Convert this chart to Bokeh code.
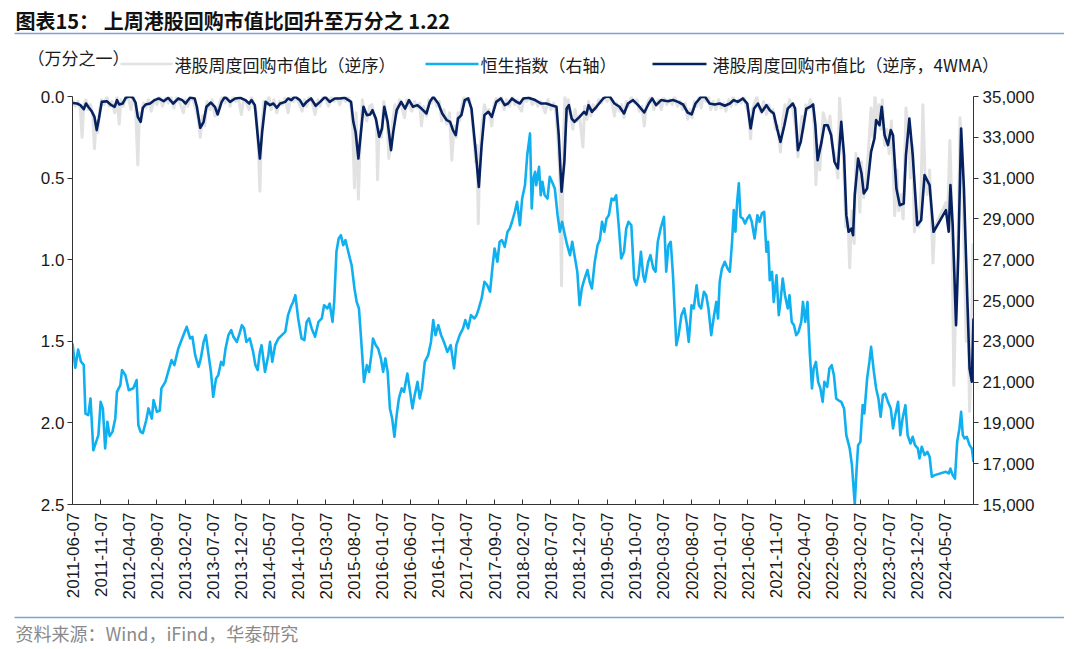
import math
from bokeh.plotting import figure
from bokeh.layouts import column
from bokeh.models import (Range1d, LinearAxis, FixedTicker, NumeralTickFormatter)
from bokeh.core.properties import value
from bokeh.embed import file_html
from bokeh.resources import INLINE

# ---------------- data (x = months since 2011-06-07) ----------------
tick_month = list(range(0, 160, 5))
tick_labels = ["2011-06-07", "2011-11-07", "2012-04-07", "2012-09-07", "2013-02-07",
               "2013-07-07", "2013-12-07", "2014-05-07", "2014-10-07", "2015-03-07",
               "2015-08-07", "2016-01-07", "2016-06-07", "2016-11-07", "2017-04-07",
               "2017-09-07", "2018-02-07", "2018-07-07", "2018-12-07", "2019-05-07",
               "2019-10-07", "2020-03-07", "2020-08-07", "2021-01-07", "2021-06-07",
               "2021-11-07", "2022-04-07", "2022-09-07", "2023-02-07", "2023-07-07",
               "2023-12-07", "2024-05-07"]

left_ticks = [0.0, 0.5, 1.0, 1.5, 2.0, 2.5]
right_ticks = [15000, 17000, 19000, 21000, 23000, 25000, 27000, 29000, 31000, 33000, 35000]

# Hang Seng Index (right axis)
hsi_month = [
    0.0, 0.5, 1.0, 1.5, 2.0, 2.3, 2.8, 3.2, 3.7, 4.2,
    4.6, 5.0, 5.4, 5.8, 6.2, 6.6, 7.1, 7.6, 7.9, 8.5,
    8.8, 9.4, 10.0, 10.8, 11.4, 11.7, 12.1, 12.5, 13.1, 13.5,
    14.1, 14.4, 15.0, 15.5, 15.8, 16.5, 17.0, 17.6, 18.1, 18.8,
    19.7, 20.3, 20.9, 21.3, 21.8, 22.4, 22.8, 23.3, 23.7, 24.1,
    24.6, 25.0, 25.5, 25.9, 26.4, 26.8, 27.2, 27.7, 28.2, 28.6,
    29.2, 29.6, 30.1, 30.5, 30.9, 31.5, 32.1, 32.5, 32.9, 33.3,
    33.6, 34.2, 34.8, 35.1, 35.5, 36.0, 36.6, 37.2, 37.8, 38.3,
    38.8, 39.2, 39.6, 40.1, 40.7, 41.2, 41.6, 42.0, 42.5, 43.1,
    43.7, 44.3, 44.7, 45.3, 45.7, 46.2, 46.5, 46.9, 47.3, 47.7,
    48.1, 48.5, 49.0, 49.6, 50.1, 50.5, 50.9, 51.4, 51.8, 52.3,
    52.7, 53.1, 53.4, 53.9, 54.3, 54.8, 55.2, 55.6, 56.0, 56.4,
    56.8, 57.2, 57.6, 58.0, 58.5, 58.9, 59.5, 59.9, 60.4, 60.8,
    61.3, 61.7, 62.1, 62.6, 63.2, 63.7, 64.1, 64.5, 65.0, 65.5,
    66.0, 66.6, 67.2, 67.8, 68.2, 68.8, 69.4, 69.8, 70.3, 70.8,
    71.4, 71.8, 72.2, 72.7, 73.2, 73.7, 74.2, 74.6, 75.0, 75.5,
    75.9, 76.3, 76.8, 77.3, 77.7, 78.1, 78.6, 79.0, 79.5, 79.9,
    80.4, 80.8, 81.3, 81.6, 81.9, 82.2, 82.4, 82.9, 83.2, 83.5,
    83.9, 84.4, 84.8, 85.2, 85.7, 86.2, 86.6, 87.0, 87.5, 87.9,
    88.4, 88.8, 89.2, 89.7, 90.1, 90.5, 91.0, 91.5, 91.9, 92.3,
    92.8, 93.3, 93.7, 94.1, 94.5, 94.9, 95.3, 95.8, 96.2, 96.6,
    97.1, 97.5, 98.0, 98.4, 98.8, 99.3, 99.8, 100.2, 100.6, 101.0,
    101.4, 101.7, 102.3, 102.7, 103.2, 103.6, 104.0, 104.5, 105.1, 105.5,
    105.9, 106.3, 106.7, 107.1, 107.3, 107.7, 108.2, 108.7, 109.1, 109.5,
    110.0, 110.4, 110.9, 111.3, 111.7, 112.2, 112.6, 113.0, 113.5, 114.0,
    114.4, 114.7, 115.0, 115.4, 115.9, 116.4, 116.8, 117.2, 117.5, 117.8,
    118.1, 118.4, 118.7, 119.1, 119.5, 119.9, 120.3, 120.7, 121.2, 121.7,
    122.1, 122.5, 122.9, 123.3, 123.6, 123.9, 124.3, 124.6, 125.1, 125.5,
    125.8, 126.2, 126.6, 127.1, 127.4, 127.8, 128.2, 128.6, 129.0, 129.5,
    129.8, 130.2, 130.6, 131.0, 131.4, 131.7, 132.1, 132.5, 132.9, 133.3,
    133.6, 134.1, 134.5, 134.9, 135.3, 135.7, 136.1, 136.6, 137.1, 137.5,
    138.1, 138.5, 139.0, 139.3, 139.6, 140.0, 140.4, 140.7, 141.2, 141.6,
    141.9, 142.4, 142.8, 143.2, 143.6, 144.0, 144.4, 144.9, 145.4, 145.8,
    146.2, 146.7, 147.1, 147.5, 148.0, 148.4, 148.9, 149.3, 149.7, 150.2,
    150.5, 150.9, 151.4, 151.9, 152.3, 152.7, 153.2, 155.2, 155.7, 156.0,
    156.4, 156.8, 157.2, 157.6, 157.9, 158.2, 158.5, 158.9, 159.4, 159.8,
    160.1]
hsi_value = [
    22900, 21700, 22600, 22000, 21850, 19460, 19380, 20200, 17660, 18070,
    18400, 20030, 19700, 17750, 19050, 18350, 18560, 19220, 20520, 20850,
    21590, 21340, 20600, 20700, 21100, 18890, 18560, 18500, 19130, 19710,
    19210, 20120, 19540, 19600, 20690, 21010, 21500, 22080, 21830, 22650,
    23300, 23710, 23140, 23220, 22320, 21750, 22160, 22970, 23300, 22480,
    21500, 20280, 21170, 21340, 21990, 21830, 22650, 23300, 23550, 23220,
    22970, 23300, 23790, 23630, 22970, 23140, 22480, 21830, 21590, 22480,
    22810, 21500, 22320, 22970, 21990, 22810, 23140, 23300, 23460, 24280,
    24690, 24930, 25260, 24120, 23140, 23060, 23950, 24120, 23630, 23220,
    23950, 24120, 24770, 24610, 24850, 23950, 24930, 27390, 28040, 28200,
    27710, 27960, 27390, 26730, 25590, 24930, 24610, 22650, 21010, 21830,
    21500, 22320, 23140, 22810, 22650, 22160, 21500, 22160, 21500, 19710,
    19220, 18320, 19380, 20200, 20690, 20520, 21420, 20690, 19710, 20360,
    21010, 20200, 20690, 21990, 22320, 22970, 24040, 23300, 23790, 23300,
    22970, 22480, 22810, 21670, 22810, 23300, 23630, 24040, 23630, 24280,
    24120, 24280, 24610, 25100, 25920, 25750, 25430, 26570, 27550, 26900,
    27880, 27960, 27630, 28370, 28530, 28860, 29350, 29840, 28690, 30000,
    30650, 32120, 33190, 29510, 30980, 31310, 30650, 31550, 30160, 30820,
    30160, 30000, 31060, 30820, 30490, 29180, 28370, 28860, 28200, 27710,
    27220, 27880, 27220, 26410, 24770, 25590, 26080, 26490, 25920, 25590,
    26900, 27710, 27960, 28860, 28370, 29020, 29180, 30000, 29920, 30160,
    28530, 27060, 27390, 28530, 28860, 28690, 26080, 25750, 26240, 27390,
    26240, 25920, 26900, 27220, 26570, 26410, 27880, 28530, 29100, 26410,
    27710, 27880, 26240, 23950, 22810, 23300, 24280, 24610, 23950, 22970,
    24770, 24610, 25750, 24770, 24610, 25430, 25260, 24610, 23300, 24280,
    24930, 24120, 25920, 26570, 26900, 26570, 26410, 27880, 29430, 28370,
    29840, 30740, 29100, 29020, 28770, 29020, 29180, 28860, 28040, 29180,
    28860, 29270, 29350, 27390, 27880, 26000, 26410, 24930, 26240, 24280,
    24930, 26080, 25260, 24610, 25260, 23950, 23790, 23300, 23460, 23950,
    24930, 23950, 24930, 22480, 20690, 21670, 21990, 21000, 20690, 20030,
    21010, 20770, 21670, 21830, 21340, 20200, 20110, 20030, 19710, 18400,
    17750, 16930, 15000, 16600, 17910, 18070, 19870, 19460, 21180, 21990,
    22730, 21500, 20690, 20200, 19300, 20360, 20440, 20030, 19710, 18730,
    19380, 20030, 18400, 19220, 19870, 18400, 17990, 18320, 17910, 17750,
    17260, 17830, 17420, 17580, 17340, 16360, 16440, 16600, 16520, 16760,
    16440, 16270, 18070, 18730, 19540, 18400, 18240, 18320, 17910, 17750,
    17090]

# weekly buyback / market value ratio (left axis, reversed)
weekly_month = [
    0.0, 0.5, 1.0, 1.4, 1.7, 2.0, 2.4, 2.8, 3.2, 3.6,
    3.9, 4.2, 4.5, 4.8, 5.2, 5.6, 6.1, 6.5, 7.0, 7.5,
    7.9, 8.3, 8.6, 9.0, 9.5, 10.0, 10.4, 10.8, 11.2, 11.6,
    11.9, 12.2, 12.6, 13.0, 13.5, 14.0, 14.5, 15.0, 15.5, 16.0,
    16.5, 17.0, 17.5, 18.0, 18.5, 19.0, 19.7, 20.1, 20.5, 21.0,
    21.5, 22.0, 22.4, 22.7, 23.1, 23.5, 23.9, 24.4, 24.8, 25.3,
    25.8, 26.2, 26.6, 27.1, 27.6, 28.0, 28.5, 29.0, 29.5, 30.0,
    30.4, 30.9, 31.4, 31.8, 32.3, 32.7, 33.0, 33.3, 33.6, 34.0,
    34.4, 34.9, 35.3, 35.8, 36.3, 36.8, 37.3, 37.8, 38.3, 38.8,
    39.3, 39.8, 40.3, 40.8, 41.2, 41.6, 42.1, 42.6, 43.1, 43.6,
    44.0, 44.5, 45.0, 45.5, 46.0, 46.5, 47.0, 47.5, 48.0, 48.5,
    49.0, 49.5, 49.8, 50.1, 50.4, 50.8, 51.1, 51.5, 51.9, 52.3,
    52.8, 53.2, 53.6, 54.0, 54.2, 54.5, 54.9, 55.3, 55.7, 56.0,
    56.2, 56.6, 56.9, 57.3, 57.7, 58.1, 58.5, 59.0, 59.4, 59.9,
    60.3, 60.8, 61.3, 61.7, 62.0, 62.4, 62.9, 63.3, 63.8, 64.2,
    64.7, 65.2, 65.6, 66.0, 66.5, 67.0, 67.4, 67.8, 68.2, 68.5,
    68.8, 69.2, 69.6, 70.1, 70.5, 70.9, 71.3, 71.6, 71.9, 72.1,
    72.4, 72.8, 73.2, 73.6, 74.0, 74.5, 74.9, 75.3, 75.8, 76.2,
    76.7, 77.1, 77.6, 78.1, 78.6, 79.0, 79.4, 79.8, 80.2, 80.7,
    81.2, 81.7, 82.2, 82.7, 83.2, 83.7, 84.0, 84.5, 85.0, 85.5,
    85.9, 86.3, 86.6, 86.9, 87.2, 87.5, 87.8, 88.1, 88.5, 88.9,
    89.3, 89.7, 90.1, 90.7, 91.0, 91.4, 91.7, 92.1, 92.5, 93.0,
    93.5, 94.0, 94.5, 95.0, 95.5, 96.0, 96.3, 96.7, 97.2, 97.6,
    98.0, 98.4, 98.8, 99.3, 99.8, 100.3, 100.7, 101.2, 101.6, 102.0,
    102.4, 102.9, 103.3, 103.7, 104.2, 104.6, 105.1, 105.6, 106.1, 106.6,
    107.0, 107.5, 108.0, 108.4, 108.9, 109.3, 109.7, 110.1, 110.5, 110.9,
    111.3, 111.7, 112.1, 112.6, 113.0, 113.4, 113.9, 114.3, 114.8, 115.2,
    115.7, 116.1, 116.6, 117.0, 117.4, 117.9, 118.3, 118.8, 119.3, 119.7,
    120.1, 120.5, 120.8, 121.2, 121.6, 122.0, 122.4, 122.8, 123.3, 123.7,
    124.1, 124.5, 124.9, 125.3, 125.8, 126.2, 126.6, 127.0, 127.4, 127.8,
    128.1, 128.5, 128.9, 129.2, 129.6, 129.9, 130.3, 130.7, 131.1, 131.5,
    131.8, 132.1, 132.4, 132.8, 133.1, 133.4, 133.8, 134.2, 134.6, 135.0,
    135.4, 135.7, 136.0, 136.3, 136.7, 137.0, 137.4, 137.8, 138.1, 138.5,
    138.9, 139.2, 139.5, 139.9, 140.2, 140.6, 141.0, 141.4, 141.9, 142.2,
    142.6, 143.0, 143.3, 143.6, 143.9, 144.3, 144.7, 145.1, 145.5, 145.8,
    146.1, 146.5, 146.8, 147.2, 147.6, 148.1, 148.5, 148.9, 149.3, 149.6,
    150.0, 150.4, 150.8, 151.1, 151.5, 151.9, 152.3, 152.9, 153.2, 155.2,
    155.5, 155.9, 156.2, 156.6, 157.0, 157.4, 157.7, 158.0, 158.4, 158.8,
    159.1, 159.4, 159.7, 160.0]
weekly_ratio = [
    .02, .06, .03, .08, .25, .05, .02, .08, .05, .12,
    .32, .15, .22, .08, .02, .05, .00, .06, .03, .10,
    .00, .17, .02, .06, .00, .02, .08, .00, .05, .42,
    .10, .15, .04, .07, .02, .09, .02, .05, .00, .06,
    .01, .04, .00, .07, .00, .03, .10, .02, .06, .00,
    .03, .09, .15, .25, .12, .18, .03, .08, .02, .12,
    .08, .03, .00, .04, .01, .06, .00, .03, .01, .11,
    .02, .04, .08, .00, .06, .10, .30, .58, .20, .03,
    .06, .00, .08, .02, .10, .03, .05, .01, .10, .00,
    .03, .00, .05, .09, .02, .06, .00, .04, .11, .02,
    .06, .00, .02, .06, .00, .03, .01, .05, .00, .03,
    .00, .06, .20, .56, .10, .63, .30, .02, .10, .15,
    .06, .05, .12, .15, .51, .20, .25, .03, .10, .20,
    .38, .30, .15, .05, .10, .02, .06, .13, .02, .05,
    .09, .03, .07, .04, .18, .06, .12, .02, .04, .00,
    .06, .03, .15, .08, .17, .10, .39, .18, .25, .10,
    .15, .05, .00, .03, .01, .10, .25, .40, .30, .78,
    .35, .15, .05, .10, .08, .18, .05, .01, .04, .00,
    .08, .02, .06, .00, .05, .02, .07, .09, .01, .03,
    .00, .05, .02, .06, .03, .07, .10, .02, .08, .04,
    .10, .30, .50, 1.16, .30, .00, .15, .02, .10, .20,
    .08, .15, .12, .31, .06, .14, .03, .12, .05, .08,
    .02, .04, .00, .03, .00, .06, .12, .04, .09, .05,
    .13, .03, .06, .00, .04, .02, .09, .06, .18, .05,
    .02, .00, .08, .04, .02, .08, .01, .05, .02, .05,
    .00, .06, .03, .08, .04, .14, .08, .13, .03, .06,
    .00, .07, .00, .03, .00, .08, .03, .08, .02, .07,
    .04, .09, .02, .06, .00, .05, .02, .04, .00, .06,
    .10, .26, .08, .04, .00, .07, .10, .03, .11, .05,
    .10, .08, .20, .18, .34, .15, .05, .10, .02, .05,
    .10, .20, .37, .25, .12, .20, .05, .08, .02, .06,
    .20, .54, .30, .45, .25, .10, .15, .20, .12, .30,
    .35, .42, .50, .01, .20, .40, .80, .75, 1.05, .70,
    .90, .35, .45, .71, .40, .62, .50, .35, .07, .25,
    .00, .15, .05, .20, .02, .30, .20, .35, .15, .40,
    .73, .45, .70, .60, .75, .07, .20, .50, .30, .83,
    .70, .80, .55, .05, .50, .60, .45, 1.02, .80, .65,
    .75, .27, .60, 1.77, 1.20, .80, .13, .30, .90, 1.50,
    1.30, 1.93, 1.60, .90]

# 4-week moving average of the ratio (left axis, reversed)
wma_month = [
    0.0, 0.8, 1.4, 2.0, 2.4, 2.8, 3.4, 3.9, 4.3, 4.7,
    5.2, 6.1, 6.9, 7.5, 7.9, 8.3, 8.9, 9.5, 10.1, 10.7,
    11.2, 11.6, 12.1, 12.5, 13.0, 13.8, 14.6, 15.3, 16.2, 17.0,
    17.9, 18.8, 19.5, 20.1, 20.9, 21.7, 22.1, 22.7, 23.3, 23.8,
    24.6, 25.3, 25.8, 26.5, 27.1, 28.0, 28.9, 29.8, 30.7, 31.4,
    31.8, 32.4, 32.9, 33.3, 33.7, 34.3, 35.1, 35.7, 36.3, 36.9,
    37.8, 38.3, 38.9, 39.5, 40.4, 41.0, 41.6, 42.4, 43.2, 44.0,
    44.9, 45.7, 46.6, 47.5, 48.4, 49.5, 49.9, 50.3, 50.8, 51.2,
    51.7, 52.3, 52.9, 53.3, 53.9, 54.5, 55.0, 55.4, 56.0, 56.6,
    57.0, 57.6, 58.4, 59.1, 59.8, 60.5, 61.3, 62.0, 62.9, 63.5,
    64.1, 65.0, 65.7, 66.5, 67.1, 67.6, 68.1, 68.5, 69.1, 69.7,
    70.3, 70.9, 71.6, 72.2, 72.7, 73.2, 73.9, 74.5, 75.3, 76.1,
    76.8, 77.4, 78.1, 78.9, 79.5, 80.1, 81.0, 82.2, 83.3, 84.2,
    85.1, 86.0, 86.4, 86.9, 87.4, 87.8, 88.2, 88.7, 89.2, 90.1,
    90.9, 91.3, 91.7, 92.3, 93.1, 94.3, 94.9, 95.5, 96.3, 97.2,
    98.0, 98.7, 99.6, 100.5, 101.6, 102.4, 103.0, 103.7, 104.6, 105.8,
    106.7, 107.6, 108.5, 109.3, 110.0, 110.7, 111.7, 112.4, 113.2, 114.1,
    115.0, 115.9, 116.8, 117.5, 118.2, 119.1, 119.9, 120.5, 121.1, 121.8,
    122.5, 123.3, 123.9, 124.6, 125.2, 125.8, 126.5, 127.1, 128.0, 128.4,
    128.9, 129.4, 129.8, 130.4, 131.1, 131.6, 132.0, 132.4, 133.1, 133.6,
    134.2, 134.8, 135.4, 136.0, 136.6, 137.1, 137.5, 137.9, 138.4, 138.7,
    139.0, 139.6, 140.2, 140.6, 141.2, 141.9, 142.5, 142.8, 143.4, 143.8,
    144.3, 144.9, 145.4, 145.8, 146.4, 147.0, 147.7, 148.1, 148.7, 149.3,
    150.1, 150.8, 151.4, 152.3, 153.0, 155.2, 155.7, 156.0, 156.4, 157.0,
    157.4, 157.9, 158.4, 159.0, 159.4, 159.8, 160.1]
wma_ratio = [
    .040, .043, .053, .078, .043, .063, .090, .125, .206, .135,
    .033, .029, .053, .063, .022, .049, .043, .006, .000, .006,
    .037, .125, .155, .069, .049, .043, .022, .012, .029, .008,
    .043, .012, .022, .043, .006, .012, .063, .192, .155, .063,
    .037, .063, .110, .033, .002, .033, .012, .008, .022, .043,
    .022, .053, .237, .380, .217, .033, .053, .043, .069, .043,
    .033, .012, .022, .000, .022, .057, .033, .012, .057, .033,
    .002, .033, .012, .012, .008, .033, .155, .217, .380, .237,
    .063, .114, .110, .084, .135, .247, .196, .063, .155, .329,
    .217, .084, .033, .074, .022, .063, .053, .074, .104, .033,
    .002, .043, .104, .145, .155, .206, .237, .135, .114, .022,
    .012, .074, .319, .554, .298, .114, .094, .125, .033, .012,
    .053, .043, .012, .033, .043, .012, .008, .022, .043, .043,
    .053, .063, .237, .584, .400, .074, .053, .135, .155, .125,
    .094, .110, .053, .094, .063, .012, .000, .002, .043, .063,
    .104, .043, .022, .053, .098, .043, .012, .053, .022, .029,
    .022, .033, .049, .098, .110, .043, .002, .002, .043, .049,
    .043, .057, .043, .022, .033, .012, .043, .196, .074, .043,
    .094, .053, .084, .104, .196, .278, .176, .074, .043, .074,
    .329, .278, .196, .074, .063, .049, .176, .390, .278, .176,
    .176, .237, .400, .441, .155, .359, .727, .829, .809, .850,
    .605, .380, .472, .594, .564, .339, .257, .145, .176, .063,
    .237, .298, .206, .237, .564, .666, .656, .359, .135, .359,
    .788, .758, .482, .543, .829, .696, .829, .543, .788, 1.401,
    .972, .196, .564, 1.238, 1.667, 1.748, 1.360]

title_text = "图表15：  上周港股回购市值比回升至万分之 1.22"
unit_text = "（万分之一）"
series_names = ["港股周度回购市值比（逆序）", "恒生指数（右轴）", "港股周度回购市值比（逆序，4WMA）"]
source_text = "资料来源：Wind，iFind，华泰研究"


def _pairs(xs, ys):
    n = min(len(xs), len(ys))
    return xs[:n], ys[:n]


hsi_month, hsi_value = _pairs(hsi_month, hsi_value)
weekly_month, weekly_ratio = _pairs(weekly_month, weekly_ratio)
wma_month, wma_ratio = _pairs(wma_month, wma_ratio)

# ---------------- styling ----------------
CJK = "Noto Sans CJK SC"
NUM = "Liberation Sans"
TXT = "#1a1a1a"
AX = "#333333"
SEP = "#7ea3d3"
GRAY = "#e2e2e2"
BLUE = "#10b0f0"
NAVY = "#062160"

W = 1064
HEAD_H, MAIN_H, FOOT_H = 86, 522, 36
ML, MR, MT, MB = 72, 91, 10, 104
X_END = 160.1


def _no_align(f):
    try:
        f.frame_align = False
    except Exception:
        pass


def bare(height, y_top, y_bottom):
    f = figure(width=W, height=height, output_backend="svg", toolbar_location=None,
               x_range=Range1d(0, W), y_range=Range1d(y_bottom, y_top),
               x_axis_location=None, y_axis_location=None,
               min_border=0, min_border_left=0, min_border_right=0,
               min_border_top=0, min_border_bottom=0)
    f.outline_line_color = None
    f.grid.visible = False
    f.background_fill_color = "white"
    f.border_fill_color = "white"
    _no_align(f)
    return f


# ---- header: title, separator, unit label, legend ----
head = bare(HEAD_H, 0, HEAD_H)
head.text(x=[15], y=[20], text=[title_text], text_font=value(CJK), text_font_size="20px",
          text_font_style="bold", text_color="#111111", text_baseline="middle",
          text_align="left")
head.segment(x0=[14], y0=[33], x1=[W], y1=[33], line_color=SEP, line_width=1.5)
head.text(x=[27], y=[57], text=[unit_text], text_font=value(CJK), text_font_size="17px",
          text_color=TXT, text_baseline="middle", text_align="left")
legend_geom = [(120, 172, 174, GRAY), (425, 478, 480, BLUE), (652, 706, 712, NAVY)]
for (x0, x1, xt, col), name in zip(legend_geom, series_names):
    head.segment(x0=[x0], y0=[63.5], x1=[x1], y1=[63.5], line_color=col, line_width=2.6)
    head.text(x=[xt], y=[64], text=[name], text_font=value(CJK), text_font_size="17px",
              text_color=TXT, text_baseline="middle", text_align="left")

# ---- main chart ----
p = figure(width=W, height=MAIN_H, output_backend="svg", toolbar_location=None,
           x_range=Range1d(0, X_END), y_range=Range1d(2.5, 0.0),
           min_border_left=ML, min_border_right=MR, min_border_top=MT,
           min_border_bottom=MB)
p.outline_line_color = None
p.grid.visible = False
p.background_fill_color = "white"
p.border_fill_color = "white"
p.extra_y_ranges = {"hsi": Range1d(15000, 35000)}
_no_align(p)

xa = p.xaxis[0]
xa.ticker = FixedTicker(ticks=tick_month)
xa.major_label_overrides = {t: s for t, s in zip(tick_month, tick_labels)}
xa.major_label_orientation = math.pi / 2
xa.major_tick_in = 5
xa.major_tick_out = 0
xa.minor_tick_line_color = None
xa.axis_line_color = AX
xa.major_tick_line_color = AX
xa.major_label_text_font = NUM
xa.major_label_text_font_size = "17px"
xa.major_label_text_color = TXT
xa.major_label_standoff = 8

ya = p.yaxis[0]
ya.ticker = FixedTicker(ticks=left_ticks)
ya.formatter = NumeralTickFormatter(format="0.0")
ya.major_tick_in = 0
ya.major_tick_out = 5
ya.minor_tick_line_color = None
ya.axis_line_color = AX
ya.major_tick_line_color = AX
ya.major_label_text_font = NUM
ya.major_label_text_font_size = "17px"
ya.major_label_text_color = TXT
ya.major_label_standoff = 3

ra = LinearAxis(y_range_name="hsi", ticker=FixedTicker(ticks=right_ticks),
                formatter=NumeralTickFormatter(format="0,0"))
ra.major_tick_in = 0
ra.major_tick_out = 5
ra.minor_tick_line_color = None
ra.axis_line_color = AX
ra.major_tick_line_color = AX
ra.major_label_text_font = NUM
ra.major_label_text_font_size = "17px"
ra.major_label_text_color = TXT
ra.major_label_standoff = 4
p.add_layout(ra, "right")

p.line(weekly_month, weekly_ratio, line_color=GRAY, line_width=3, line_join="round")
p.line(hsi_month, hsi_value, y_range_name="hsi", line_color=BLUE, line_width=2.6,
       line_join="round")
p.line(wma_month, wma_ratio, line_color=NAVY, line_width=2.6, line_join="round")

# ---- footer: separator and source ----
foot = bare(FOOT_H, 608, 608 + FOOT_H)
foot.segment(x0=[14], y0=[617], x1=[W], y1=[617], line_color=SEP, line_width=1.5)
foot.text(x=[15], y=[632], text=[source_text], text_font=value(CJK), text_font_size="18px",
          text_color="#8a8a8a", text_baseline="middle", text_align="left")

page = column(head, p, foot, spacing=0)
open("out.html", "w").write(file_html(page, INLINE))
